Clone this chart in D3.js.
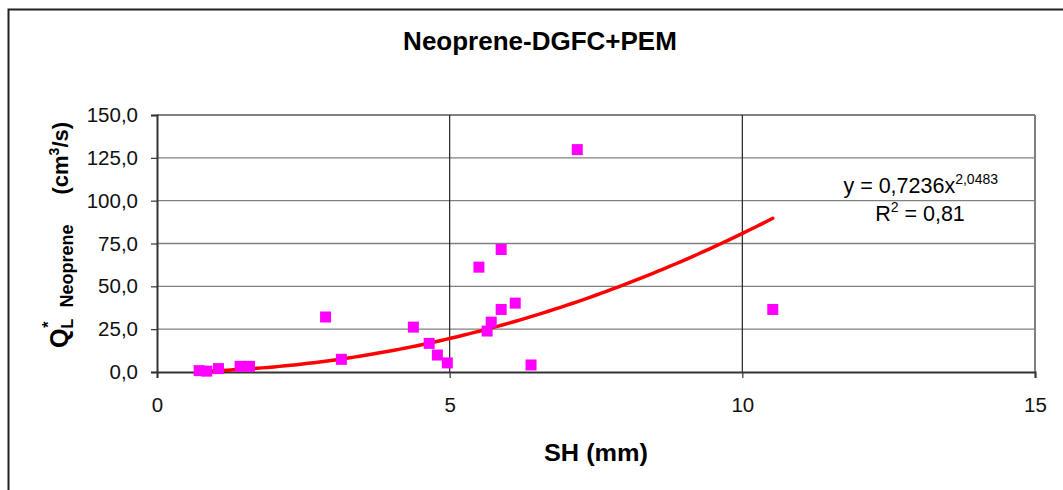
<!DOCTYPE html>
<html><head><meta charset="utf-8">
<script src="https://cdn.jsdelivr.net/npm/d3@7"></script>
<style>
html,body{margin:0;padding:0;background:#fff;}
svg{display:block;font-family:"Liberation Sans",Arial,sans-serif;}
</style></head>
<body>
<svg id="chart" width="1063" height="490"></svg>
<script>
// ---- data ----
const title = "Neoprene-DGFC+PEM";
const shX = [0.72, 0.85, 1.05, 1.42, 1.58, 2.88, 3.15, 4.38, 4.65, 4.79, 4.96, 5.50, 5.64, 5.71, 5.88, 5.88, 6.12, 6.39, 7.18, 10.52];
const qL  = [0.8, 0.5, 2.0, 3.3, 3.3, 32.1, 7.4, 26.2, 16.7, 9.9, 5.3, 61.2, 23.9, 29.1, 36.5, 71.5, 40.2, 4.1, 129.8, 36.5];
const xTicks = [0, 5, 10, 15];
const yTicks = [0, 25, 50, 75, 100, 125, 150];
const trendA = 0.7236;   // power trendline y = a * x^b, as printed on the chart
const trendB = 2.0483;
const eqText = "y = 0,7236x";
const eqExp = "2,0483";
const r2Text = "0,81";

// ---- layout ----
const svg = d3.select("#chart");
const L = 157, R = 1035, T = 115, B = 372;
const x = d3.scaleLinear().domain([0, 15]).range([L, R]);
const y = d3.scaleLinear().domain([0, 150]).range([B, T]);
const fmt = v => d3.format(".1f")(v).replace(".", ",");

// outer frame
svg.append("rect").attr("x", 8.5).attr("y", 9.5).attr("width", 1070).attr("height", 500)
  .attr("fill", "#fff").attr("stroke", "#222").attr("stroke-width", 2);

// horizontal gridlines
svg.append("g").selectAll("line").data(yTicks.filter(d => d > 0)).join("line")
  .attr("x1", L).attr("x2", R).attr("y1", d => y(d)).attr("y2", d => y(d))
  .attr("stroke", "#808080").attr("stroke-width", d => d === 150 ? 2 : 1.4);
// vertical gridlines
svg.append("g").selectAll("line").data(xTicks.filter(d => d > 0 && d < 15)).join("line")
  .attr("x1", d => x(d)).attr("x2", d => x(d)).attr("y1", T).attr("y2", B)
  .attr("stroke", "#222").attr("stroke-width", 1.2);
// right border
svg.append("line").attr("x1", R).attr("x2", R).attr("y1", T).attr("y2", B)
  .attr("stroke", "#808080").attr("stroke-width", 2);

// axes
const xAxis = svg.append("g").attr("transform", `translate(0,${B})`)
  .call(d3.axisBottom(x).tickValues(xTicks).tickSize(6).tickPadding(19).tickFormat(d3.format("d")));
const yAxis = svg.append("g").attr("transform", `translate(${L},0)`)
  .call(d3.axisLeft(y).tickValues(yTicks).tickSize(6).tickPadding(13).tickFormat(fmt));
[xAxis, yAxis].forEach(g => {
  g.select(".domain").attr("stroke", "#333").attr("stroke-width", 2);
  g.selectAll(".tick line").attr("stroke", "#333").attr("stroke-width", 1.2);
  g.selectAll("text").attr("font-size", 20.5).attr("fill", "#111")
    .attr("font-family", "Liberation Sans, Arial, sans-serif");
});

// trendline (power fit, drawn over the data's x extent)
const [xmin, xmax] = d3.extent(shX);
const trendPts = d3.range(0, 101).map(i => {
  const xv = xmin + (xmax - xmin) * i / 100;
  return [xv, trendA * Math.pow(xv, trendB)];
});
svg.append("path").datum(trendPts)
  .attr("d", d3.line().x(d => x(d[0])).y(d => y(d[1])))
  .attr("fill", "none").attr("stroke", "#ff0000").attr("stroke-width", 3.5)
  .attr("stroke-linecap", "round");

// points
const s = 11;
svg.append("g").selectAll("rect").data(shX.map((v, i) => [v, qL[i]])).join("rect")
  .attr("x", d => x(d[0]) - s / 2).attr("y", d => y(d[1]) - s / 2)
  .attr("width", s).attr("height", s).attr("fill", "#ff00ff");

// title
svg.append("text").attr("x", 540).attr("y", 50).attr("text-anchor", "middle")
  .attr("font-size", 26).attr("font-weight", "bold").attr("fill", "#000").text(title);

// x title
svg.append("text").attr("x", 596).attr("y", 461).attr("text-anchor", "middle")
  .attr("font-size", 23).attr("font-weight", "bold").attr("fill", "#000")
  .attr("textLength", 104).attr("lengthAdjust", "spacingAndGlyphs").text("SH (mm)");

// y title (rotated, built bottom-up)
const yt = svg.append("text").attr("transform", "translate(68,348) rotate(-90)")
  .attr("text-anchor", "start").attr("font-weight", "bold").attr("font-size", 25).attr("fill", "#000");
yt.append("tspan").text("Q");
yt.append("tspan").attr("font-size", 16).attr("dy", 5).text("L");
yt.append("tspan").attr("font-size", 16).attr("dy", -19).attr("dx", -9).text("*");
yt.append("tspan").attr("font-size", 18).attr("dy", 19).attr("dx", 14).text("Neoprene");
yt.append("tspan").attr("font-size", 22).attr("dy", -5).attr("dx", 30).text("(cm");
yt.append("tspan").attr("font-size", 14).attr("dy", -9).text("3");
yt.append("tspan").attr("font-size", 22).attr("dy", 9).text("/s)");

// equation
const eq = svg.append("text").attr("x", 998).attr("y", 193).attr("text-anchor", "end")
  .attr("font-size", 21.5).attr("fill", "#000");
eq.append("tspan").text(eqText);
eq.append("tspan").attr("font-size", 14).attr("dy", -9).text(eqExp);
const r2 = svg.append("text").attr("x", 920).attr("y", 221).attr("text-anchor", "middle")
  .attr("font-size", 21.5).attr("fill", "#000");
r2.append("tspan").text("R");
r2.append("tspan").attr("font-size", 14).attr("dy", -9).text("2");
r2.append("tspan").attr("dy", 9).text(" = " + r2Text);
</script>
</body></html>
